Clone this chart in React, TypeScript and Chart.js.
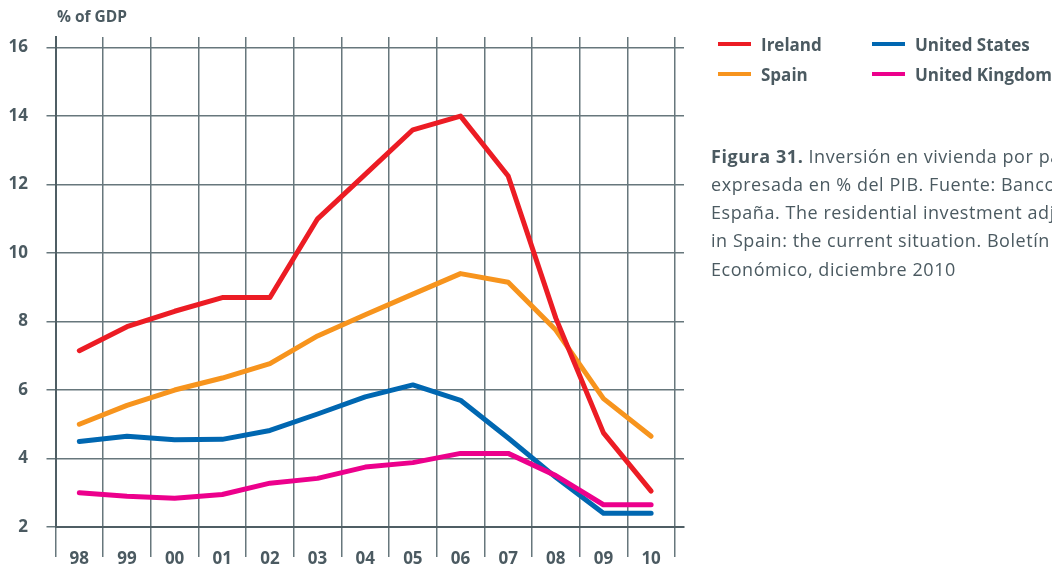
import React, { useEffect, useRef } from 'react';
import { Chart, registerables } from 'chart.js';

Chart.register(...registerables);

const yearLabels = ['98', '99', '00', '01', '02', '03', '04', '05', '06', '07', '08', '09', '10'];
const yTickValues = [2, 4, 6, 8, 10, 12, 14, 16];

const ireland = [7.15, 7.85, 8.3, 8.7, 8.7, 11.0, 12.3, 13.6, 14.0, 12.25, 8.1, 4.75, 3.05];
const spain = [5.0, 5.55, 6.0, 6.35, 6.77, 7.58, 8.2, 8.8, 9.4, 9.15, 7.75, 5.75, 4.65];
const unitedStates = [4.5, 4.65, 4.55, 4.56, 4.82, 5.3, 5.8, 6.15, 5.7, 4.6, 3.45, 2.4, 2.4];
const unitedKingdom = [3.0, 2.9, 2.84, 2.95, 3.28, 3.42, 3.75, 3.88, 4.15, 4.15, 3.5, 2.65, 2.65];

const seriesNames = ['Ireland', 'Spain', 'United States', 'United Kingdom'];
const seriesColors = ['#ec1c24', '#f7941d', '#0067b1', '#ec008c'];

const TEXT = '#4b5a61';
const GRID = '#67777c';
const DARK = '#4f5e64';
const FONT = "'Open Sans', 'DejaVu Sans', sans-serif";

export default function App() {
  const ref = useRef<HTMLCanvasElement>(null);

  useEffect(() => {
    const toPts = (arr: number[]) => arr.map((v, i) => ({ x: i, y: v }));
    const all = [ireland, spain, unitedStates, unitedKingdom];
    const orders = [1, 2, 3, 0];
    const chart = new Chart(ref.current as HTMLCanvasElement, {
      type: 'line',
      data: {
        datasets: all.map((arr, k) => ({
          label: seriesNames[k],
          data: toPts(arr),
          borderColor: seriesColors[k],
          backgroundColor: seriesColors[k],
          borderWidth: 5,
          pointRadius: 0,
          borderCapStyle: 'round',
          borderJoinStyle: 'round',
          tension: 0,
          order: orders[k],
        })),
      },
      options: {
        animation: false,
        responsive: false,
        maintainAspectRatio: false,
        layout: { padding: { top: 37, left: 8, right: 368, bottom: 0 } },
        plugins: {
          legend: { display: false },
          tooltip: { enabled: false },
          title: { display: false },
        },
        scales: {
          x: {
            type: 'linear',
            bounds: 'data',
            min: -0.5,
            max: 12.69,
            afterBuildTicks: (s: any) => {
              s.ticks = yearLabels.map((_, i) => ({ value: i - 0.5 })).concat([{ value: 12.5 }]);
            },
            afterFit: (s: any) => {
              s.height = 40;
            },
            grid: { color: GRID, lineWidth: 1.5, tickLength: 30, drawTicks: true, tickColor: GRID },
            border: { display: true, color: DARK, width: 2 },
            ticks: {
              autoSkip: false,
              maxRotation: 0,
              minRotation: 0,
              labelOffset: 23.8,
              padding: -8,
              color: TEXT,
              font: { family: FONT, size: 17, weight: 'bold', lineHeight: 1.2 },
              callback: (_v: any, i: number) => yearLabels[i] ?? '',
            },
          },
          y: {
            type: 'linear',
            bounds: 'data',
            min: 2,
            max: 16.31,
            afterBuildTicks: (s: any) => {
              s.ticks = yTickValues.map((v) => ({ value: v }));
            },
            afterFit: (s: any) => {
              s.width = 47.5;
            },
            grid: { color: GRID, lineWidth: 1.5, tickLength: 9, drawTicks: true, tickColor: GRID },
            border: { display: true, color: DARK, width: 2 },
            ticks: {
              padding: 18.5,
              color: TEXT,
              font: { family: FONT, size: 17, weight: 'bold' },
              callback: (v: any) => String(v),
            },
          },
        },
      },
    } as any);
    return () => chart.destroy();
  }, []);

  const legendItem = (k: number, x: number, y: number) => (
    <div key={k} style={{ position: 'absolute', left: x, top: y - 12, height: 24, display: 'flex', alignItems: 'center' }}>
      <div style={{ width: 33, height: 4, background: seriesColors[k] }} />
      <div style={{ marginLeft: 10, fontFamily: FONT, fontWeight: 700, fontSize: 17, color: TEXT, whiteSpace: 'nowrap' }}>
        {seriesNames[k]}
      </div>
    </div>
  );

  const captionLines: React.ReactNode[] = [
    <>
      <b>Figura 31.</b> Inversión en vivienda por países
    </>,
    'expresada en % del PIB. Fuente: Banco de',
    'España. The residential investment adjustment',
    'in Spain: the current situation. Boletín',
    'Económico, diciembre 2010',
  ];

  return (
    <div style={{ position: 'absolute', left: 0, top: 0, width: 1052, height: 567, overflow: 'hidden', background: '#fff' }}>
      <canvas ref={ref} width={1052} height={567} style={{ position: 'absolute', left: 0, top: 0, width: 1052, height: 567 }} />
      <div style={{ position: 'absolute', left: 57, top: 5, fontFamily: FONT, fontWeight: 700, fontSize: 15.5, color: TEXT, whiteSpace: 'nowrap' }}>
        % of GDP
      </div>
      {legendItem(0, 718, 44)}
      {legendItem(1, 718, 74)}
      {legendItem(2, 872, 44)}
      {legendItem(3, 872, 74)}
      {captionLines.map((line, i) => (
        <div
          key={i}
          style={{
            position: 'absolute',
            left: 711,
            top: 142 + i * 28 + (i === 4 ? 1 : 0),
            height: 28,
            lineHeight: '28px',
            fontFamily: FONT,
            fontSize: 18,
            letterSpacing: 0.55,
            color: TEXT,
            whiteSpace: 'nowrap',
          }}
        >
          {line}
        </div>
      ))}
    </div>
  );
}
